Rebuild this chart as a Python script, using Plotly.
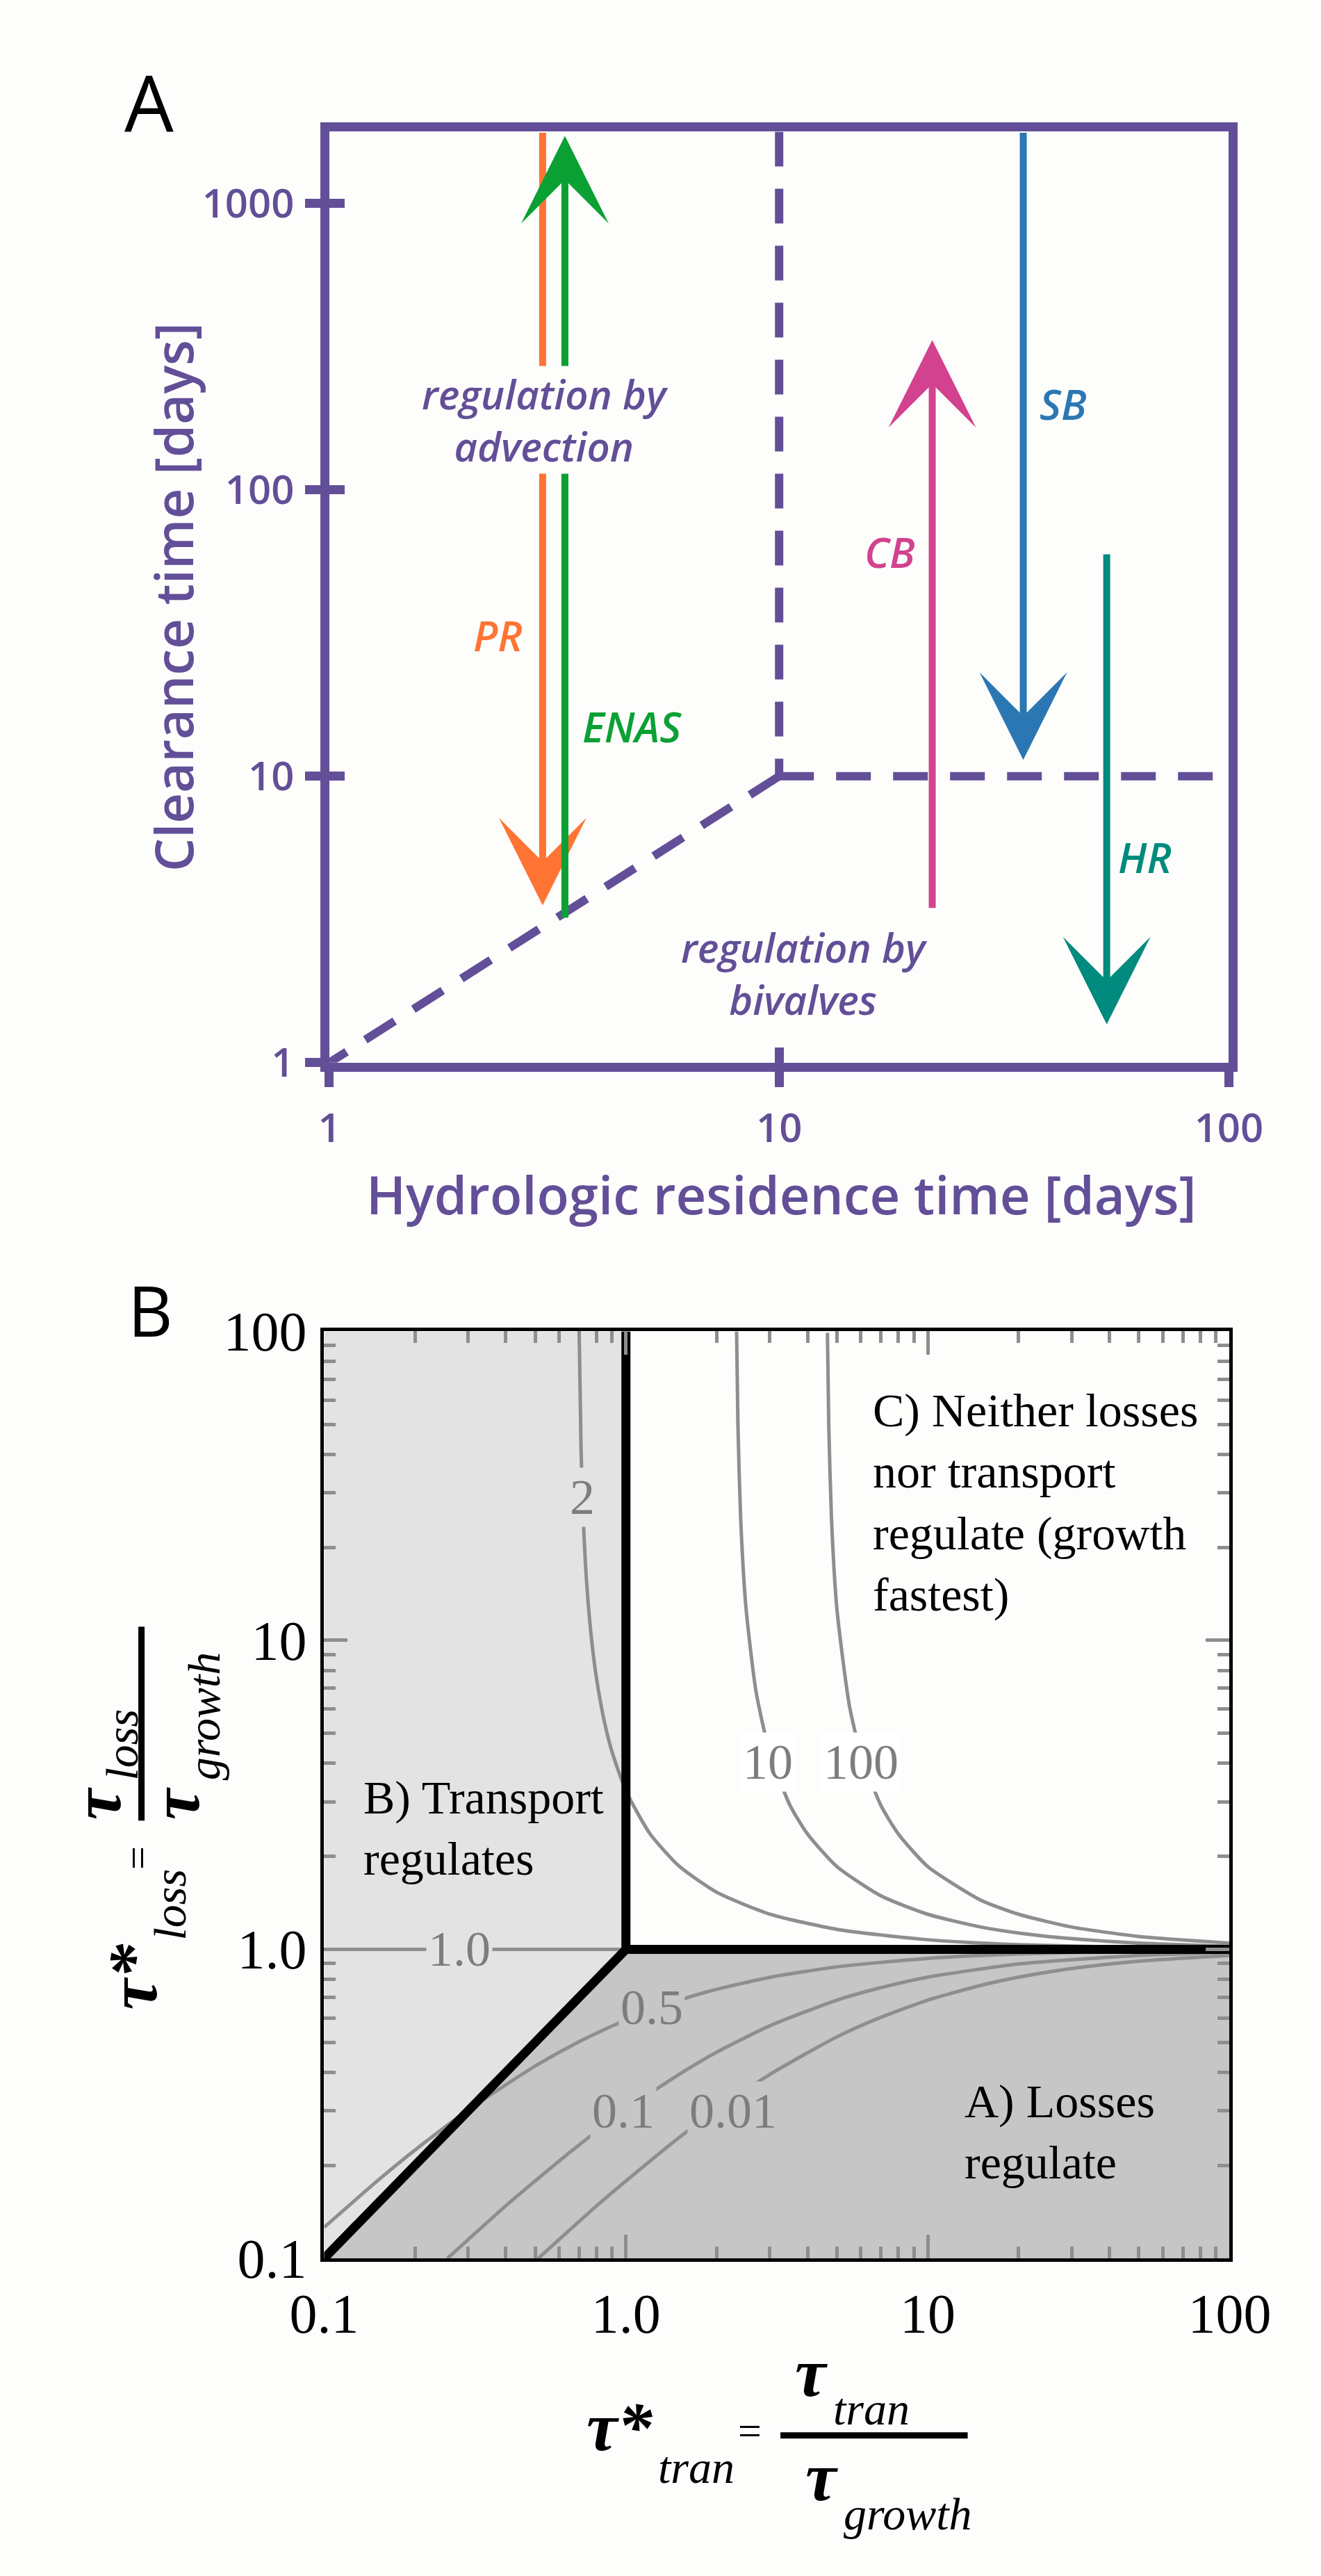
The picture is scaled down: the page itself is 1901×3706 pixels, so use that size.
import numpy as np
import plotly.graph_objects as go

W, H = 1901, 3706
def px(x): return x / W
def py(y): return 1 - y / H

# ---------------- Panel A data ----------------
a_x_ticks = [1, 10, 100]
a_y_ticks = [1, 10, 100, 1000]
a_x_range = [1, 100]
a_y_range = [1, 1778]

bound_vert_x = [10, 10]
bound_vert_y = [1778, 10]
bound_horz_x = [10, 100]
bound_horz_y = [10, 10]
bound_diag_x = [10, 1]
bound_diag_y = [10, 1]

arrow_names = ["PR", "ENAS", "CB", "SB", "HR"]
arrow_x = [2.98, 3.34, 21.9, 34.9, 53.5]
arrow_y_from = [1778, 3.18, 3.44, 1778, 60]
arrow_y_to = [3.54, 1718, 333, 11.4, 1.36]

# ---------------- Panel B data ----------------
b_ticks = [0.1, 1, 10, 100]
b_ticktext = ["0.1", "1.0", "10", "100"]
b_minor = [0.2, 0.3, 0.4, 0.5, 0.6, 0.7, 0.8, 0.9,
           2, 3, 4, 5, 6, 7, 8, 9,
           20, 30, 40, 50, 60, 70, 80, 90]

regionB_x = [0.1, 1, 1, 0.1]
regionB_y = [0.1, 1, 100, 100]
regionA_x = [0.1, 1, 100, 100]
regionA_y = [0.1, 1, 1, 0.1]

border_x = [0.1, 1, 1, None, 1, 100]
border_y = [0.1, 1, 100, None, 1, 1]

c2_x = [0.70, 0.71, 0.72, 0.74, 0.77, 0.80, 0.85, 0.90, 1.0, 1.2, 1.5, 2, 3, 5, 10, 20, 50, 100]
c2_y = [100, 41.8, 26.7, 15.7, 10.0, 7.48, 5.41, 4.35, 3.26, 2.37, 1.86, 1.53, 1.30, 1.161, 1.0745, 1.036, 1.014, 1.007]
c10_x = [2.326, 2.35, 2.4, 2.5, 2.7, 3.0, 3.5, 4, 5, 7, 10, 15, 20, 30, 50, 100]
c10_y = [100, 50, 24.7, 12.7, 6.80, 4.30, 2.92, 2.36, 1.854, 1.490, 1.299, 1.181, 1.130, 1.083, 1.048, 1.024]
c100_x = [4.652, 4.70, 4.8, 5.0, 5.5, 6, 7, 8, 10, 15, 20, 30, 50, 100]
c100_y = [99, 49.5, 24.6, 12.66, 6.15, 4.30, 2.92, 2.36, 1.854, 1.443, 1.299, 1.181, 1.101, 1.048]
c1_x = [0.1, 100]
c1_y = [1, 1]
c05_x = [0.1, 0.15, 0.2, 0.3, 0.5, 0.7, 1.0, 1.5, 2, 3, 5, 10, 20, 50, 100]
c05_y = [0.126, 0.178, 0.224, 0.302, 0.419, 0.503, 0.591, 0.684, 0.743, 0.812, 0.878, 0.935, 0.967, 0.986, 0.993]
c01_x = [0.256, 0.3, 0.4, 0.5, 0.7, 1.0, 1.5, 2, 3, 5, 7, 10, 20, 50, 100]
c01_y = [0.1, 0.115, 0.148, 0.178, 0.233, 0.303, 0.394, 0.465, 0.566, 0.685, 0.752, 0.813, 0.897, 0.956, 0.9775]
c001_x = [0.512, 0.6, 0.8, 1.0, 1.5, 2, 3, 5, 7, 10, 15, 20, 30, 50, 100]
c001_y = [0.1, 0.115, 0.148, 0.178, 0.246, 0.303, 0.394, 0.521, 0.603, 0.685, 0.765, 0.813, 0.867, 0.916, 0.956]

contour_labels = ["2", "10", "100", "1.0", "0.5", "0.1", "0.01"]
contour_label_x = [0.718, 2.95, 6.0, 0.28, 1.22, 0.98, 2.26]
contour_label_y = [29, 4.03, 4.03, 1.0, 0.65, 0.30, 0.30]

# ---------------- styles ----------------
BG = "#fdfdfc"
PURPLE = "#624f97"
ARROW_COLORS = ["#ff7433", "#0aa034", "#d3428f", "#2b77b3", "#008b7e"]
LIGHT = "#e3e3e3"
DARK = "#c6c6c6"
CURVE = "#8e8e8e"
LABELGRAY = "#7d7d7d"
SANS = "Open Sans"
SERIF = "Liberation Serif"

fig = go.Figure()

# Panel A dashed boundaries
for xs, ys in [(bound_vert_x, bound_vert_y), (bound_horz_x, bound_horz_y), (bound_diag_x, bound_diag_y)]:
    fig.add_trace(go.Scatter(x=xs, y=ys, mode="lines", xaxis="x", yaxis="y",
                             line=dict(color=PURPLE, width=12, dash="50px,32px"),
                             showlegend=False, hoverinfo="skip"))
# overlay axes helper trace (for the inward half of the crossing ticks)
fig.add_trace(go.Scatter(x=[1], y=[1], xaxis="x3", yaxis="y3", mode="markers",
                         marker=dict(opacity=0), showlegend=False, hoverinfo="skip"))

# Panel B regions
fig.add_trace(go.Scatter(x=regionB_x, y=regionB_y, fill="toself", fillcolor=LIGHT, mode="none",
                         xaxis="x2", yaxis="y2", showlegend=False, hoverinfo="skip"))
fig.add_trace(go.Scatter(x=regionA_x, y=regionA_y, fill="toself", fillcolor=DARK, mode="none",
                         xaxis="x2", yaxis="y2", showlegend=False, hoverinfo="skip"))
for xs, ys in [(c2_x, c2_y), (c10_x, c10_y), (c100_x, c100_y), (c1_x, c1_y),
               (c05_x, c05_y), (c01_x, c01_y), (c001_x, c001_y)]:
    fig.add_trace(go.Scatter(x=xs, y=ys, mode="lines", xaxis="x2", yaxis="y2",
                             line=dict(color=CURVE, width=5, shape="spline", smoothing=0.6),
                             showlegend=False, hoverinfo="skip"))
fig.add_trace(go.Scatter(x=border_x, y=border_y, mode="lines", xaxis="x2", yaxis="y2",
                         line=dict(color="black", width=13), showlegend=False, hoverinfo="skip"))

ann = []
# arrows panel A
for name, x, y0, y1, c in zip(arrow_names, arrow_x, arrow_y_from, arrow_y_to, ARROW_COLORS):
    ann.append(dict(x=np.log10(x), y=np.log10(y1), ax=np.log10(x), ay=np.log10(y0),
                    xref="x", yref="y", axref="x", ayref="y", text="", showarrow=True,
                    arrowhead=3, arrowsize=2.1, arrowwidth=10, arrowcolor=c, standoff=0))

def lab(text, x, y, size, color, family=SANS, italic=False, xanchor="center", yanchor="middle",
        bg=None, angle=0, weight="normal", align="center"):
    d = dict(text=text, x=px(x), y=py(y), xref="paper", yref="paper", showarrow=False,
             xanchor=xanchor, yanchor=yanchor, textangle=angle, align=align,
             font=dict(family=family, size=size, color=color,
                       style="italic" if italic else "normal", weight=weight))
    if bg:
        d["bgcolor"] = bg
        d["borderpad"] = 0
    return d

# panel A labels
ann.append(lab("regulation by<br>advection", 780, 575, 58, PURPLE, italic=True, bg=BG, weight=600))
ann.append(lab("regulation by<br>bivalves", 1176, 1390, 58, PURPLE, italic=True, weight=600))
label_pos = [(707, 892), (912, 1026), (1306, 769), (1571, 551), (1696, 1219)]
for name, (lx, ly), c in zip(arrow_names, label_pos, ARROW_COLORS):
    ann.append(lab(name, lx, ly, 60, c, italic=True, weight=600))
ann.append(lab("A", 175, 105, 112, "black"))
ann.append(lab("Clearance time [days]", 210, 836, 76, PURPLE, angle=-90, weight=600))
ann.append(lab("Hydrologic residence time [days]", 1140, 1715, 76, PURPLE, weight=600))

# panel B labels
ann.append(lab("B", 177, 1886, 100, "black"))
region_bg = [LIGHT, "white", "white", LIGHT, DARK, DARK, DARK]
for t, x, y, bg in zip(contour_labels, contour_label_x, contour_label_y, region_bg):
    ann.append(dict(text=t, x=np.log10(x), y=np.log10(y), xref="x2", yref="y2", showarrow=False,
                    font=dict(family=SERIF, size=72, color=LABELGRAY), bgcolor=bg, borderpad=2))
ann.append(lab("C) Neither losses<br>nor transport<br>regulate (growth<br>fastest)", 1278, 2170, 68,
               "black", family=SERIF, xanchor="left", align="left"))
ann.append(lab("B) Transport<br>regulates", 500, 2650, 68, "black", family=SERIF, xanchor="left", align="left"))
ann.append(lab("A) Losses<br>regulate", 1418, 3098, 68, "black", family=SERIF, xanchor="left", align="left"))

# x title panel B (tau symbols with subscripts placed beside them)
ann.append(lab("τ*", 946, 3532, 100, "black", family=SERIF, italic=True, weight="bold", xanchor="right"))
ann.append(lab("tran", 950, 3592, 66, "black", family=SERIF, italic=True, xanchor="left"))
ann.append(lab("=", 1092, 3538, 60, "black", family=SERIF))
ann.append(lab("τ", 1213, 3452, 100, "black", family=SERIF, italic=True, weight="bold", xanchor="right"))
ann.append(lab("tran", 1217, 3506, 66, "black", family=SERIF, italic=True, xanchor="left"))
ann.append(lab("τ", 1229, 3606, 100, "black", family=SERIF, italic=True, weight="bold", xanchor="right"))
ann.append(lab("growth", 1233, 3660, 66, "black", family=SERIF, italic=True, xanchor="left"))
# y title panel B (rotated, reading upward)
ann.append(lab("τ*", 150, 2920, 100, "black", family=SERIF, italic=True, weight="bold", angle=-90,
               yanchor="bottom"))
ann.append(lab("loss", 207, 2818, 66, "black", family=SERIF, italic=True, angle=-90, yanchor="bottom"))
ann.append(lab("=", 157, 2694, 60, "black", family=SERIF, angle=-90))
ann.append(lab("τ", 95, 2640, 100, "black", family=SERIF, italic=True, weight="bold", angle=-90,
               yanchor="bottom"))
ann.append(lab("loss", 133, 2582, 66, "black", family=SERIF, italic=True, angle=-90, yanchor="bottom"))
ann.append(lab("τ", 215, 2640, 100, "black", family=SERIF, italic=True, weight="bold", angle=-90,
               yanchor="bottom"))
ann.append(lab("growth", 258, 2582, 66, "black", family=SERIF, italic=True, angle=-90, yanchor="bottom"))

shapes = [
    dict(type="line", xref="paper", yref="paper", x0=px(1139), x1=px(1425), y0=py(3545), y1=py(3545),
         line=dict(color="black", width=9)),
    dict(type="line", xref="paper", yref="paper", x0=px(163), x1=px(163), y0=py(2353), y1=py(2639),
         line=dict(color="black", width=9)),
]

a_dom_x = [px(450), px(1824)]
a_dom_y = [py(1522), py(150)]
b_dom_x = [px(442), px(1825)]
b_dom_y = [py(3284), py(1918)]

axA = dict(type="log", showgrid=False, zeroline=False, showline=True, linecolor=PURPLE, linewidth=13,
           mirror=True, ticks="outside", ticklen=22, tickwidth=13, tickcolor=PURPLE,
           tickfont=dict(family=SANS, size=58, color=PURPLE, weight=600))
axA_in = dict(type="log", showgrid=False, zeroline=False, showline=False, ticks="inside", ticklen=22,
              tickwidth=13, tickcolor=PURPLE, showticklabels=False)
axB = dict(type="log", showgrid=False, zeroline=False, showline=True, linecolor="black", linewidth=5,
           mirror="allticks", ticks="inside", ticklen=34, tickwidth=5, tickcolor=CURVE,
           tickvals=b_ticks, ticktext=b_ticktext,
           minor=dict(tickvals=b_minor, ticks="inside", ticklen=17, tickwidth=5, tickcolor=CURVE),
           tickfont=dict(family=SERIF, size=80, color="black"))

fig.update_layout(
    width=W, height=H, autosize=False, margin=dict(l=0, r=0, t=0, b=0),
    paper_bgcolor=BG, plot_bgcolor=BG,
    xaxis=dict(axA, domain=a_dom_x, anchor="y", range=[np.log10(v) for v in a_x_range],
               tickvals=a_x_ticks, ticktext=["1", "10", "100"], ticklabelstandoff=10),
    yaxis=dict(axA, domain=a_dom_y, anchor="x", range=[np.log10(v) for v in a_y_range],
               tickvals=a_y_ticks, ticktext=["1", "10", "100", "1000"], ticklabelstandoff=4),
    xaxis3=dict(axA_in, overlaying="x", anchor="y", range=[np.log10(v) for v in a_x_range],
                tickvals=a_x_ticks),
    yaxis3=dict(axA_in, overlaying="y", anchor="x", range=[np.log10(v) for v in a_y_range],
                tickvals=a_y_ticks),
    xaxis2=dict(axB, domain=b_dom_x, anchor="y2", range=[-1, 2], ticklabelstandoff=6),
    yaxis2=dict(axB, domain=b_dom_y, anchor="x2", range=[-1, 2], ticklabelstandoff=4),
    annotations=ann, shapes=shapes, showlegend=False,
)

fig.write_html("out.html", config={"displayModeBar": False},
               post_script="document.body.style.margin='0';")
